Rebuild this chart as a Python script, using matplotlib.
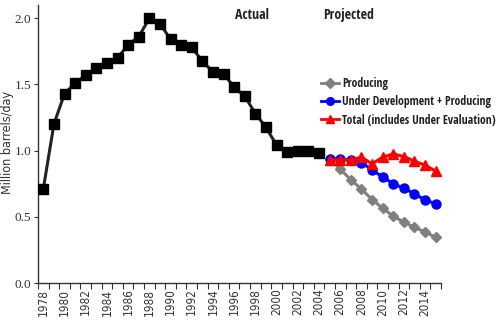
import matplotlib
matplotlib.use("Agg")
import matplotlib.pyplot as plt
from matplotlib.lines import Line2D
from matplotlib.font_manager import FontProperties

years = list(range(1978, 2016))
actual_years = list(range(1978, 2005))
actual = [0.71, 1.20, 1.43, 1.51, 1.57, 1.625, 1.66, 1.70, 1.80, 1.86, 2.00,
          1.96, 1.84, 1.80, 1.78, 1.675, 1.595, 1.58, 1.48, 1.41, 1.28, 1.175,
          1.04, 0.99, 1.00, 0.995, 0.98]
proj_years = list(range(2005, 2016))
producing = [0.94, 0.86, 0.78, 0.71, 0.63, 0.565, 0.505, 0.46, 0.42, 0.385, 0.345]
under_dev = [0.94, 0.935, 0.93, 0.91, 0.855, 0.80, 0.75, 0.715, 0.675, 0.625, 0.60]
total = [0.93, 0.93, 0.93, 0.95, 0.90, 0.95, 0.975, 0.955, 0.92, 0.89, 0.845]
year_labels = [str(y) for y in range(1978, 2016, 2)]

cond = FontProperties(family="DejaVu Sans", stretch="condensed", size=8.5)
bold_cond = FontProperties(family="Open Sans Condensed", weight="bold", size=8.5)
serif = FontProperties(family="Liberation Serif", size=9.5)

fig = plt.figure(figsize=(5.02, 3.26), dpi=100)
ax = fig.add_axes([38 / 502, 1 - 283 / 326, (441 - 38) / 502, (283 - 5) / 326])

def idx(ys):
    return [y - 1978 for y in ys]

ax.plot(idx(actual_years), actual, color="#222222", lw=2.2, marker="s", ms=6.5,
        mfc="black", mec="black", zorder=5)
ax.plot(idx(proj_years), producing, color="#808080", lw=2.2, marker="D", ms=5.5,
        mfc="#808080", mec="#808080", zorder=3)
ax.plot(idx(proj_years), under_dev, color="#0000ff", lw=2.2, marker="o", ms=6.5,
        mfc="#0000ff", mec="#0000ff", zorder=4)
ax.plot(idx(proj_years), total, color="#ff0000", lw=2.2, marker="^", ms=6.5,
        mfc="#ff0000", mec="#ff0000", zorder=4)

ax.set_xlim(-0.5, len(years) - 0.5)
ax.set_ylim(0, 2.1)
ax.spines["top"].set_visible(False)
ax.spines["right"].set_visible(False)
for s in ("left", "bottom"):
    ax.spines[s].set_color("#333333")
    ax.spines[s].set_linewidth(1.0)

ax.set_yticks([0, 0.5, 1.0, 1.5, 2.0])
ax.set_yticklabels(["0.0", "0.5", "1.0", "1.5", "2.0"], fontproperties=serif,
                   color="#333333")
ax.tick_params(axis="y", direction="out", length=3, width=0.8, color="#333333", pad=2)

# category axis: tick marks at the boundaries, labels at the centres
ax.set_xticks([i - 0.5 for i in range(len(years) + 1)], minor=True)
ax.set_xticks(idx(range(1978, 2016, 2)))
ax.set_xticklabels(year_labels, rotation=90, fontproperties=cond, color="#333333")
ax.tick_params(axis="x", which="major", length=0, pad=4)
ax.tick_params(axis="x", which="minor", direction="out", length=4, width=0.8,
               color="#333333")

fig.text(8 / 502, 1 - 143 / 326, "Million barrels/day", rotation=90,
         ha="center", va="center", color="#333333",
         fontproperties=FontProperties(family="DejaVu Sans", stretch="condensed",
                                       size=9))

fig.text(252 / 502, 1 - 15 / 326, "Actual", ha="center", va="center",
         fontproperties=FontProperties(family="Open Sans Condensed", weight="bold",
                                       size=10), color="#222222")
fig.text(349 / 502, 1 - 15 / 326, "Projected", ha="center", va="center",
         fontproperties=FontProperties(family="Open Sans Condensed", weight="bold",
                                       size=10), color="#222222")

handles = [
    Line2D([], [], color="#808080", lw=2, marker="D", ms=5, mfc="#808080", mec="#808080"),
    Line2D([], [], color="#0000ff", lw=2, marker="o", ms=5.5, mfc="#0000ff", mec="#0000ff"),
    Line2D([], [], color="#ff0000", lw=2, marker="^", ms=5.5, mfc="#ff0000", mec="#ff0000"),
]
labels = ["Producing", "Under Development + Producing",
          "Total (includes Under Evaluation)"]
leg = fig.legend(handles, labels, loc="upper left",
                 bbox_to_anchor=(321 / 502, 1 - 77 / 326), frameon=False,
                 handlelength=1.5, handletextpad=0.3, labelspacing=0.45,
                 borderaxespad=0, borderpad=0, prop=bold_cond)
for t in leg.get_texts():
    t.set_color("#222222")

fig.savefig("out.png", dpi=100)
